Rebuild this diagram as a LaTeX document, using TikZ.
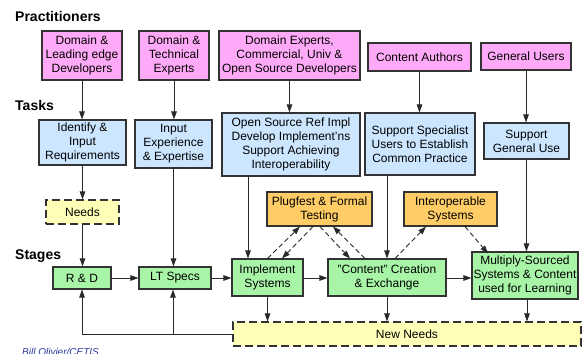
\documentclass[tikz,border=0pt]{standalone}
\usepackage{fontspec}
\setmainfont{Liberation Sans}
\usetikzlibrary{arrows.meta}
\definecolor{pinkf}{HTML}{FFAAF8}
\definecolor{bluef}{HTML}{CCE6FF}
\definecolor{greenf}{HTML}{A8F5A8}
\definecolor{orangef}{HTML}{FFCC66}
\definecolor{yellowf}{HTML}{FFFFB8}
\definecolor{edge}{HTML}{333333}
\definecolor{sig}{HTML}{2B3AA0}
\tikzset{
  box/.style={draw=edge, line width=1.1pt, align=center, inner sep=0pt,
    font=\fontsize{12}{14}\selectfont},
  prac/.style={box, fill=pinkf},
  task/.style={box, fill=bluef},
  stage/.style={box, fill=greenf},
  result/.style={box, fill=orangef},
  need/.style={box, fill=yellowf, dash pattern=on 8pt off 4pt},
  arr/.style={draw=edge!80!black, line width=0.9pt, -{Triangle[length=8pt,width=5.5pt]}},
  darr/.style={arr, dash pattern=on 5pt off 3pt},
  ln/.style={draw=edge!80!black, line width=0.9pt},
  head/.style={font=\fontsize{14}{16}\selectfont\bfseries, anchor=base west, inner sep=0pt},
}
\begin{document}
\begin{tikzpicture}[x=1pt,y=-1pt]
\useasboundingbox[fill=white] (0,0) rectangle (582,354);

\node[head] (hp) at (15,21) {Practitioners};
\node[head] (ht) at (15,110) {Tasks};
\node[head] (hs) at (15,259) {Stages};

% practitioners
\node[prac, minimum width=80pt, minimum height=49pt] (P1) at (82,55.5) {Domain \&\\Leading edge\\Developers};
\node[prac, minimum width=70pt, minimum height=49pt] (P2) at (174,55.5) {Domain \&\\Technical\\Experts};
\node[prac, minimum width=141pt, minimum height=49pt] (P3) at (289.5,55.5) {Domain Experts,\\Commercial, Univ \&\\Open Source Developers};
\node[prac, minimum width=103pt, minimum height=28pt] (P4) at (419.5,57) {Content Authors};
\node[prac, minimum width=90pt, minimum height=27pt] (P5) at (526,56.5) {General Users};

% tasks
\node[task, minimum width=87pt, minimum height=45pt] (T1) at (82.5,142.5) {Identify \&\\Input\\Requirements};
\node[task, minimum width=77pt, minimum height=48pt] (T2) at (173.5,144) {Input\\Experience\\\& Expertise};
\node[task, minimum width=138pt, minimum height=63pt] (T3) at (291,144.5) {Open Source Ref Impl\\Develop Implement'ns\\Support Achieving\\Interoperability};
\node[task, minimum width=110pt, minimum height=62pt] (T4) at (420,144) {Support Specialist\\Users to Establish\\Common Practice};
\node[task, minimum width=85pt, minimum height=36pt] (T5) at (526.5,141) {Support\\General Use};

% needs and results
\node[need, minimum width=73pt, minimum height=24pt] (N) at (82.5,212) {Needs};
\node[result, minimum width=105pt, minimum height=34pt] (PF) at (319.5,209) {Plugfest \& Formal\\Testing};
\node[result, minimum width=93pt, minimum height=34pt] (IS) at (450.5,209) {Interoperable\\Systems};

% stages
\node[stage, minimum width=58pt, minimum height=22pt] (RD) at (82,278) {R \& D};
\node[stage, minimum width=72pt, minimum height=22pt] (LT) at (175,278) {LT Specs};
\node[stage, minimum width=71pt, minimum height=37pt] (IM) at (267.5,277.5) {Implement\\Systems};
\node[stage, minimum width=118pt, minimum height=37pt] (CC) at (387,277.5) {"Content" Creation\\\& Exchange};
\node[stage, minimum width=106pt, minimum height=47pt] (MS) at (525,275.5) {Multiply-Sourced\\Systems \& Content\\used for Learning};
\node[need, minimum width=348pt, minimum height=24pt] (NN) at (407,334) {New Needs};

\node[font=\fontsize{10}{12}\selectfont\itshape, text=sig, anchor=base west, inner sep=0pt] (sg) at (22,355.5) {Bill Olivier/CETIS};

% practitioner -> task
\draw[arr] (P1.south) -- (P1.south |- T1.north);
\draw[arr] (P2.south) -- (P2.south |- T2.north);
\draw[arr] (P3.south) -- (P3.south |- T3.north);
\draw[arr] (P4.south) -- (P4.south |- T4.north);
\draw[arr] (P5.south) -- (P5.south |- T5.north);

% task -> stage
\draw[arr] (T1.south) -- (T1.south |- N.north);
\draw[arr] (N.south) -- (N.south |- RD.north);
\draw[arr] (T2.south) -- (T2.south |- LT.north);
\draw[arr] ([xshift=-19.5pt]IM.north |- T3.south) -- ([xshift=-19.5pt]IM.north);
\draw[arr] (CC.north |- T4.south) -- (CC.north);
\draw[arr] (T5.south) -- (T5.south |- MS.north);

% stage chain
\draw[arr] (RD.east) -- (LT.west);
\draw[arr] (LT.east) -- (IM.west |- LT.east);
\draw[arr] (IM.east |- LT.east) -- (CC.west |- LT.east);
\draw[arr] (CC.east |- LT.east) -- (MS.west |- LT.east);

% to new needs
\draw[arr] (IM.south) -- (IM.south |- NN.north);
\draw[arr] (CC.south) -- (CC.south |- NN.north);
\draw[arr] ([xshift=2pt]MS.south) -- ([xshift=2pt]MS.south |- NN.north);

% feedback
\draw[ln] (NN.west) -- (RD.south |- NN.west);
\draw[arr] (RD.south |- NN.west) -- (RD.south);
\draw[arr] ([xshift=-2pt]LT.south |- NN.west) -- ([xshift=-2pt]LT.south);

% dashed interactions
\draw[darr] (IM.north) -- ([xshift=-19.5pt]PF.south);
\draw[darr] ([xshift=-6.5pt]PF.south) -- ([xshift=14.5pt]IM.north);
\draw[darr] ([xshift=0.5pt]PF.south) -- ([xshift=-37pt]CC.north);
\draw[darr] ([xshift=-22pt]CC.north) -- ([xshift=13.5pt]PF.south);
\draw[darr] ([xshift=8pt]CC.north) -- ([xshift=-24.5pt]IS.south);
\draw[darr] ([xshift=14.5pt]IS.south) -- ([xshift=-37pt,yshift=-2pt]MS.north);
\end{tikzpicture}
\end{document}
